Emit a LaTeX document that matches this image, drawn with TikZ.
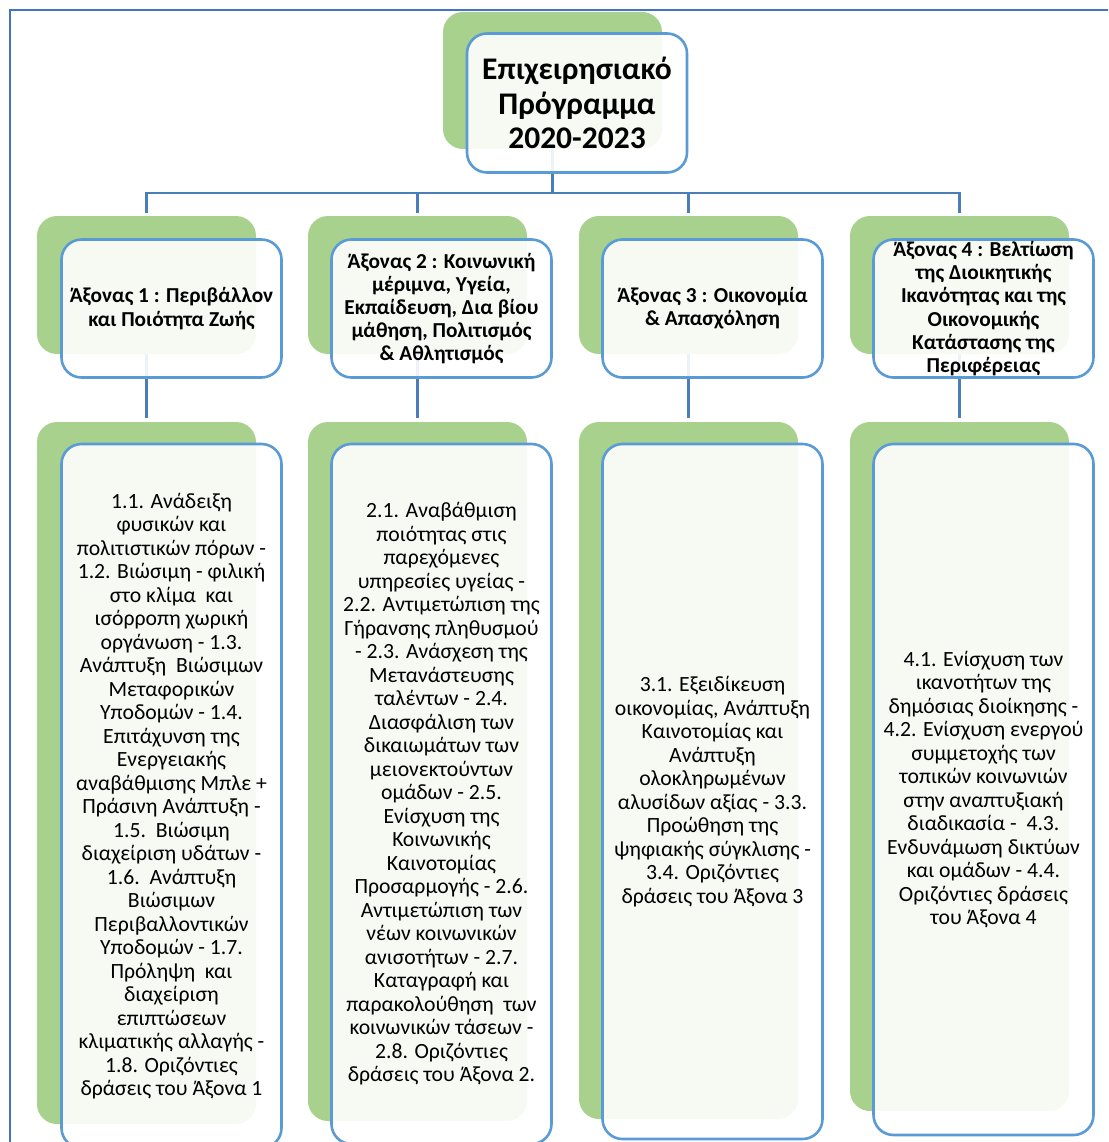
\documentclass[tikz,border=0pt]{standalone}
\usepackage{fontspec}
\setmainfont{Carlito}
\definecolor{gboxc}{HTML}{A9D18E}
\definecolor{bedge}{HTML}{5B9BD5}
\definecolor{conn}{HTML}{4A7EBB}
\definecolor{frame}{HTML}{4472C4}
\begin{document}
\begin{tikzpicture}[x=1pt,y=-1pt,
  gbox/.style={fill=gboxc, rounded corners=20pt, inner sep=0pt, outer sep=0pt, minimum width=219pt},
  wbox/.style={draw=bedge, line width=2.6pt, fill=white, fill opacity=0.9, text opacity=1, rounded corners=20pt, inner sep=0pt, outer sep=0pt, minimum width=220pt, align=center, text=black},
  ttl/.style={font=\bfseries\fontsize{31.5}{34.5}\selectfont},
  hdr/.style={font=\bfseries\fontsize{21.3}{23.2}\selectfont},
  body/.style={font=\fontsize{21.7}{23.5}\selectfont},
  link/.style={draw=conn, line width=2.8pt}
]
\useasboundingbox (0,0) rectangle (1108,1142);
\clip (0,0) rectangle (1108,1142);
\fill[white] (0,0) rectangle (1108,1142);
\draw[frame, line width=2pt] (10,10) rectangle (1130,1170);

% green backdrops
\node[gbox, minimum height=137pt] (g0) at (552.5,80.5) {};
\node[gbox, minimum height=138pt] (g1) at (146.5,285) {};
\node[gbox, minimum height=138pt] (g2) at (417.5,285) {};
\node[gbox, minimum height=138pt] (g3) at (688.5,285) {};
\node[gbox, minimum height=138pt] (g4) at (959.5,285) {};
\node[gbox, minimum height=702pt] (h1) at (146.5,773) {};
\node[gbox, minimum height=699pt] (h2) at (417.5,771.5) {};
\node[gbox, minimum height=697pt] (h3) at (688.5,770.5) {};
\node[gbox, minimum height=689pt] (h4) at (959.5,766.5) {};

% connectors
\coordinate (bar) at (553,193);
\draw[link] (g0.south) -- (g0.south |- bar);
\draw[link, shorten >=3pt] (g0.south |- bar) -| (g1.north);
\draw[link, shorten >=3pt] (g0.south |- bar) -| (g2.north);
\draw[link, shorten >=3pt] (g0.south |- bar) -| (g3.north);
\draw[link, shorten >=3pt] (g0.south |- bar) -| (g4.north);
\draw[link, shorten >=4pt] (g1.south) -- (h1.north);
\draw[link, shorten >=4pt] (g2.south) -- (h2.north);
\draw[link, shorten >=4pt] (g3.south) -- (h3.north);
\draw[link, shorten >=4pt] (g4.south) -- (h4.north);

% white boxes
\node[wbox, ttl, minimum height=139pt] (w0) at (577,103) {Επιχειρησιακό\\Πρόγραμμα\\2020-2023};
\node[wbox, hdr, minimum height=138pt] (w1) at (171.5,308.5) {Άξονας 1 : Περιβάλλον\\και Ποιότητα Ζωής};
\node[wbox, hdr, minimum height=138pt] (w2) at (441.5,308.5) {Άξονας 2 : Κοινωνική\\μέριμνα, Υγεία,\\Εκπαίδευση, Δια βίου\\μάθηση, Πολιτισμός\\\& Αθλητισμός};
\node[wbox, hdr, minimum height=138pt] (w3) at (712.5,308.5) {Άξονας 3 : Οικονομία\\\& Απασχόληση};
\node[wbox, hdr, minimum height=138pt] (w4) at (983.5,308.5) {Άξονας 4 : Βελτίωση\\της Διοικητικής\\Ικανότητας και της\\Οικονομικής\\Κατάστασης της\\Περιφέρειας};

\node[wbox, body, minimum height=704pt] (v1) at (171.5,796) {1.1. Ανάδειξη\\φυσικών και\\πολιτιστικών πόρων -\\1.2. Βιώσιμη - φιλική\\στο κλίμα\ \ και\\ισόρροπη χωρική\\οργάνωση - 1.3.\\Ανάπτυξη\ \ Βιώσιμων\\Μεταφορικών\\Υποδομών - 1.4.\\Επιτάχυνση της\\Ενεργειακής\\αναβάθμισης Μπλε +\\Πράσινη Ανάπτυξη -\\1.5.\ \ Βιώσιμη\\διαχείριση υδάτων -\\1.6.\ \ Ανάπτυξη\\Βιώσιμων\\Περιβαλλοντικών\\Υποδομών - 1.7.\\Πρόληψη\ \ και\\διαχείριση\\επιπτώσεων\\κλιματικής αλλαγής -\\1.8. Οριζόντιες\\δράσεις του Άξονα 1};
\node[wbox, body, minimum height=700pt] (v2) at (441.5,794) {2.1. Αναβάθμιση\\ποιότητας στις\\παρεχόμενες\\υπηρεσίες υγείας -\\2.2. Αντιμετώπιση της\\Γήρανσης πληθυσμού\\- 2.3. Ανάσχεση της\\Μετανάστευσης\\ταλέντων - 2.4.\\Διασφάλιση των\\δικαιωμάτων των\\μειονεκτούντων\\ομάδων - 2.5.\\Ενίσχυση της\\Κοινωνικής\\Καινοτομίας\\Προσαρμογής - 2.6.\\Αντιμετώπιση των\\νέων κοινωνικών\\ανισοτήτων - 2.7.\\Καταγραφή και\\παρακολούθηση\ \ των\\κοινωνικών τάσεων -\\2.8. Οριζόντιες\\δράσεις του Άξονα 2.};
\node[wbox, body, minimum height=695pt] (v3) at (712.5,791.5) {3.1. Εξειδίκευση\\οικονομίας, Ανάπτυξη\\Καινοτομίας και\\Ανάπτυξη\\ολοκληρωμένων\\αλυσίδων αξίας - 3.3.\\Προώθηση της\\ψηφιακής σύγκλισης -\\3.4. Οριζόντιες\\δράσεις του Άξονα 3};
\node[wbox, body, minimum height=691pt] (v4) at (983.5,789.5) {4.1. Ενίσχυση των\\ικανοτήτων της\\δημόσιας διοίκησης -\\4.2. Ενίσχυση ενεργού\\συμμετοχής των\\τοπικών κοινωνιών\\στην αναπτυξιακή\\διαδικασία -\ \ 4.3.\\Ενδυνάμωση δικτύων\\και ομάδων - 4.4.\\Οριζόντιες δράσεις\\του Άξονα 4};
\end{tikzpicture}
\end{document}
